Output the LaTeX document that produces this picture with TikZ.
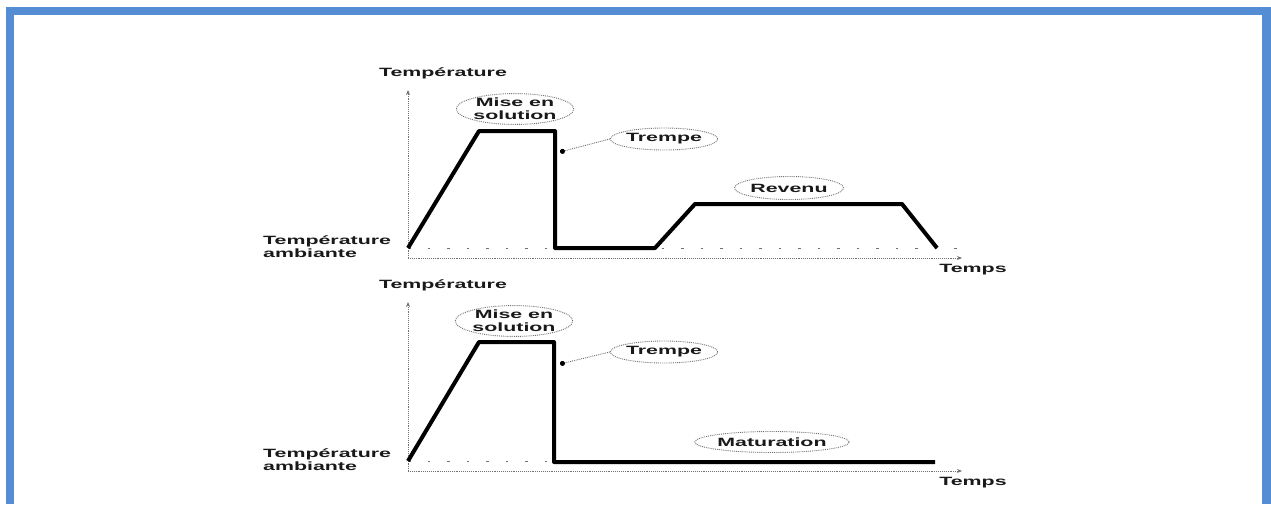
\documentclass[tikz,border=0pt]{standalone}
\usepackage{fontspec}
\setmainfont{Liberation Sans}
\newfontfamily\widefont{Liberation Sans}[FakeStretch=1.78]
\usetikzlibrary{shapes.geometric,arrows.meta}
\definecolor{framblue}{HTML}{548DD4}
\definecolor{axisgray}{HTML}{707070}
\begin{document}
\begin{tikzpicture}[x=1pt,y=-1pt,
  lbl/.style={font=\widefont\bfseries\fontsize{12}{13}\selectfont, inner sep=0pt, text=black!90},
  tag/.style={ellipse, draw=axisgray, densely dotted, line width=0.9pt, inner sep=0pt,
    font=\widefont\bfseries\fontsize{12}{13}\selectfont, text=black!90, align=center},
  axis/.style={draw=axisgray, densely dotted, line width=0.9pt, -{Stealth[length=5pt,width=4pt]}},
  ambient/.style={draw=axisgray, line width=1pt, dash pattern=on 2.5pt off 17pt},
  curve/.style={draw=black, line width=4pt, line join=round},
  lead/.style={draw=axisgray, densely dotted, line width=0.9pt, -{Circle[length=5pt,fill=black,black]}}]
\useasboundingbox (0,0) rectangle (1271,504);
% frame
\fill[framblue] (6,7) rectangle (1271,15);
\fill[framblue] (6,7) rectangle (14,504);
\fill[framblue] (1262,7) rectangle (1271,504);

% ===== upper graph =====
\coordinate (o1) at (408,258);
\coordinate (ytop1) at (408,90);
\coordinate (xend1) at (962,258);
\draw[ambient] (408,248) -- (964,248);
\draw[axis] (o1) -- (ytop1);
\draw[axis] (o1) -- (xend1);
\node[lbl] (ty1) at (443,73) {Température};
\node[lbl, anchor=west, align=left] (ta1) at (263,247) {Température\\ambiante};
\node[lbl] (tt1) at (973,270) {Temps};
\draw[curve] (408,248) -- (479,131) -- (555,131) -- (555,248) -- (655,248)
  -- (695,204) -- (902,204) -- (937,248);
\node[tag, minimum width=116pt, minimum height=28pt] (ms1) at (515,109) {Mise en\\solution};
\node[tag, minimum width=97pt, minimum height=22pt] (tr1) at (664,139) {Trempe};
\node[tag, minimum width=99pt, minimum height=23pt] (rv1) at (789,188) {Revenu};
\coordinate (q1) at (560,152);
\draw[lead] (tr1.west) -- (q1);

% ===== lower graph =====
\coordinate (o2) at (408,471);
\coordinate (ytop2) at (408,302);
\coordinate (xend2) at (962,471);
\draw[ambient] (408,461) -- (555,461);
\draw[axis] (o2) -- (ytop2);
\draw[axis] (o2) -- (xend2);
\node[lbl] (ty2) at (443,285) {Température};
\node[lbl, anchor=west, align=left] (ta2) at (263,460) {Température\\ambiante};
\node[lbl] (tt2) at (973,483) {Temps};
\draw[curve] (408,461) -- (479,342) -- (554,342) -- (554,462) -- (935,462);
\node[tag, minimum width=116pt, minimum height=28pt] (ms2) at (514,321) {Mise en\\solution};
\node[tag, minimum width=97pt, minimum height=22pt] (tr2) at (664,352) {Trempe};
\node[tag, minimum width=137pt, minimum height=21pt] (mt2) at (772,442) {Maturation};
\coordinate (q2) at (560,364);
\draw[lead] (tr2.west) -- (q2);
\end{tikzpicture}
\end{document}
